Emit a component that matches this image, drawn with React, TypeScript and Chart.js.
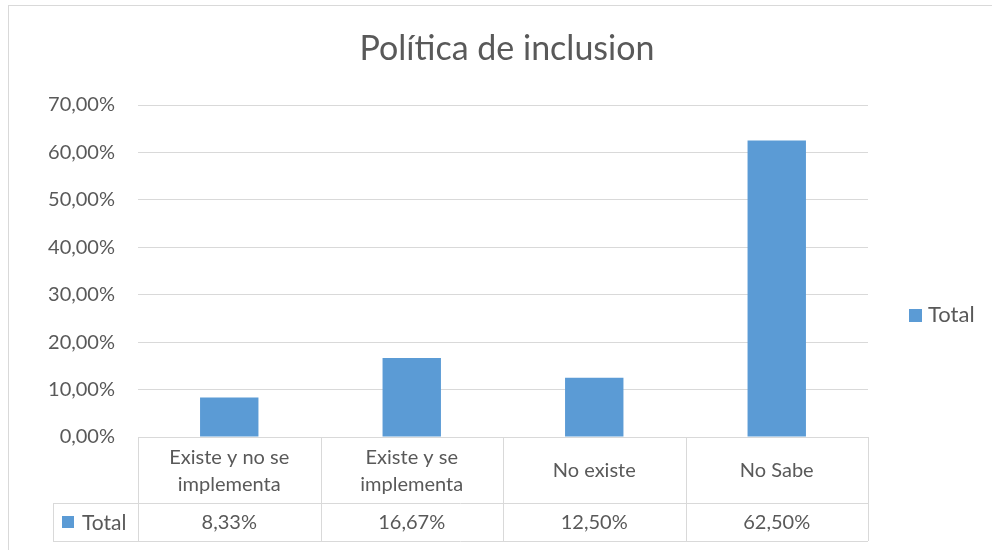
import React, { useEffect, useRef } from "react";
import { Chart, registerables } from "chart.js";

Chart.register(...registerables);

const title = "Política de inclusion";
const seriesLabel = "Total";
const categories: string[][] = [
  ["Existe y no se", "implementa"],
  ["Existe y se", "implementa"],
  ["No existe"],
  ["No Sabe"],
];
const values = [0.0833, 0.1667, 0.125, 0.625];
const valueLabels = ["8,33%", "16,67%", "12,50%", "62,50%"];

const FONT = "Lato, 'Open Sans', sans-serif";
const TEXT = "#595959";
const GRID = "#d9d9d9";
const BAR = "#5b9bd5";

const fmtPct = (v: number) => (v * 100).toFixed(2).replace(".", ",") + "%";

const tablePlugin = {
  id: "excelTable",
  afterDraw(chart: any) {
    const ctx = chart.ctx as CanvasRenderingContext2D;
    const area = chart.chartArea;
    const xs = chart.scales.x;
    const n = categories.length;
    const colW = (area.right - area.left) / n;
    const top = area.bottom;
    const mid = top + 66;
    const bot = mid + 38;
    const legLeft = 53;
    ctx.save();
    // outer chart border
    ctx.strokeStyle = GRID;
    ctx.lineWidth = 1;
    ctx.strokeRect(8.5, 5.5, 1200, 700);
    // table lines
    ctx.beginPath();
    ctx.moveTo(area.left, top + 0.5);
    ctx.lineTo(area.right, top + 0.5);
    ctx.moveTo(legLeft, mid + 0.5);
    ctx.lineTo(area.right, mid + 0.5);
    ctx.moveTo(legLeft, bot + 0.5);
    ctx.lineTo(area.right, bot + 0.5);
    ctx.moveTo(legLeft + 0.5, mid);
    ctx.lineTo(legLeft + 0.5, bot);
    for (let i = 0; i <= n; i++) {
      const x = Math.round(area.left + i * colW) + 0.5;
      ctx.moveTo(x, top);
      ctx.lineTo(x, bot);
    }
    ctx.stroke();
    // texts
    ctx.fillStyle = TEXT;
    ctx.font = `20px ${FONT}`;
    ctx.textAlign = "center";
    ctx.textBaseline = "middle";
    categories.forEach((lines, i) => {
      const cx = xs.getPixelForValue(i);
      const lh = 27;
      const cy = (top + mid) / 2 + 1;
      const start = cy - ((lines.length - 1) * lh) / 2;
      lines.forEach((l, j) => ctx.fillText(l, cx, start + j * lh));
      ctx.fillText(valueLabels[i], cx, (mid + bot) / 2 + 1);
    });
    // table legend key
    ctx.fillStyle = BAR;
    ctx.fillRect(62, 516, 12, 12);
    ctx.fillStyle = TEXT;
    ctx.textAlign = "left";
    ctx.font = `21px ${FONT}`;
    ctx.fillText(seriesLabel, 82, (mid + bot) / 2 + 1);
    // right legend
    ctx.fillStyle = BAR;
    ctx.fillRect(909, 309, 13, 13);
    ctx.fillStyle = TEXT;
    ctx.font = `22px ${FONT}`;
    ctx.fillText(seriesLabel, 928, 315);
    // title
    ctx.font = `34px ${FONT}`;
    ctx.textAlign = "center";
    ctx.fillText(title, 507, 49);
    ctx.restore();
  },
};

export default function App() {
  const ref = useRef<HTMLCanvasElement>(null);
  useEffect(() => {
    document.body.style.margin = "0";
    const chart = new Chart(ref.current!, {
      type: "bar",
      data: {
        labels: categories.map((c) => c.join(" ")),
        datasets: [
          {
            label: seriesLabel,
            data: values,
            backgroundColor: BAR,
            barPercentage: 0.32,
            categoryPercentage: 1,
          },
        ],
      },
      options: {
        animation: false,
        responsive: false,
        layout: { padding: { top: 105, right: 124, bottom: 113, left: 0 } },
        plugins: {
          legend: { display: false },
          title: { display: false },
          tooltip: { enabled: false },
        },
        scales: {
          x: { display: false },
          y: {
            min: 0,
            max: 0.7,
            afterFit: (s: any) => {
              s.width = 138;
            },
            border: { display: false },
            grid: { color: GRID, drawTicks: false },
            ticks: {
              stepSize: 0.1,
              padding: 23,
              color: TEXT,
              font: { family: FONT, size: 20 },
              callback: (v: any) => fmtPct(Number(v)),
            },
          },
        },
      },
      plugins: [tablePlugin],
    });
    return () => chart.destroy();
  }, []);
  return (
    <div style={{ width: 992, height: 550 }}>
      <canvas ref={ref} width={992} height={550} />
    </div>
  );
}
